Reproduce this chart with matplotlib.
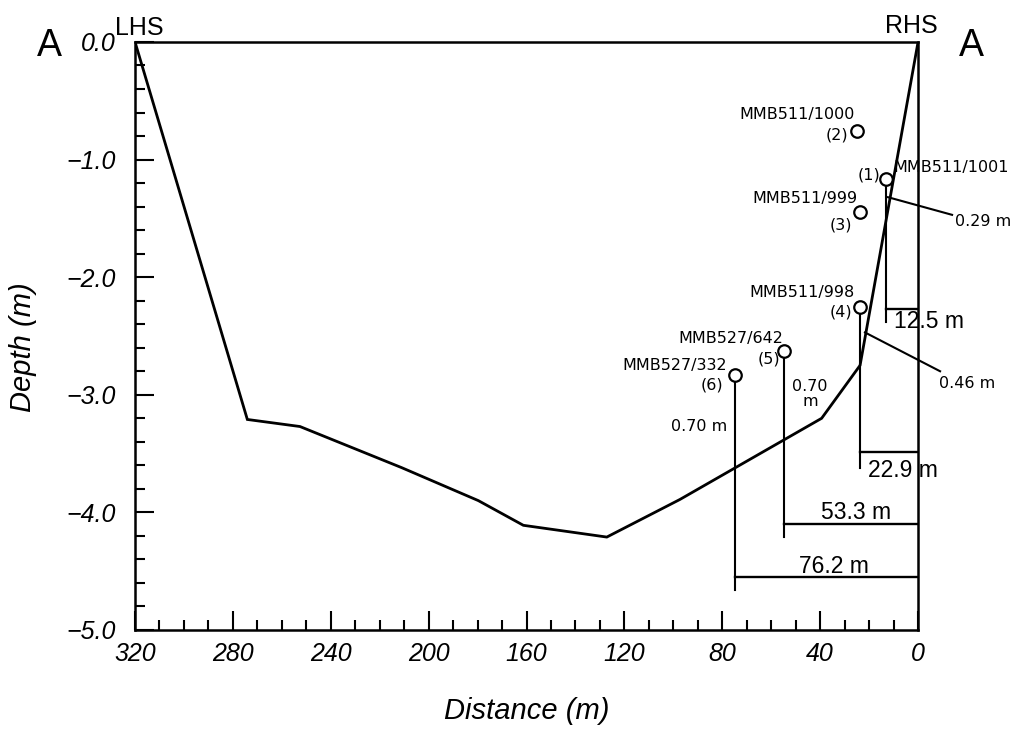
import matplotlib
matplotlib.use("Agg")
import matplotlib.pyplot as plt
from matplotlib.ticker import MultipleLocator, FuncFormatter

plt.rcParams['font.family'] = ['Liberation Sans', 'DejaVu Sans']

# channel bed profile (distance from RHS, depth)
profile_x = [320, 274.1, 252.6, 211.0, 179.7, 161.3, 127.2, 97.3, 39.4, 23.7, 0]
profile_y = [0.0, -3.21, -3.27, -3.62, -3.90, -4.11, -4.21, -3.89, -3.20, -2.75, 0.0]

# sampling stations
st_num = ["(1)", "(2)", "(3)", "(4)", "(5)", "(6)"]
st_name = ["MMB511/1001", "MMB511/1000", "MMB511/999", "MMB511/998", "MMB527/642", "MMB527/332"]
st_x = [12.9, 25.0, 23.7, 23.7, 54.6, 74.8]
st_y = [-1.165, -0.757, -1.45, -2.25, -2.63, -2.83]

# distance markers from RHS: (station index, pole bottom, dimension line depth, label)
dim_station = [0, 3, 4, 5]
dim_pole_end = [-2.38, -3.62, -4.21, -4.66]
dim_line_y = [-2.27, -3.49, -4.10, -4.55]
dim_label = ["12.5 m", "22.9 m", "53.3 m", "76.2 m"]

fig = plt.figure(figsize=(10.16, 7.31), dpi=100)
ax = fig.add_axes([0.1329, 0.1382, 0.7707, 0.8044])

ax.plot(profile_x, profile_y, color='black', lw=2.0, solid_joinstyle='miter')

# poles and dimension lines
for i, yb, yl in zip(dim_station, dim_pole_end, dim_line_y):
    ax.plot([st_x[i], st_x[i]], [st_y[i] - 0.06, yb], color='black', lw=1.5)
    ax.plot([st_x[i], 0], [yl, yl], color='black', lw=1.7)

ax.plot(st_x, st_y, 'o', mfc='white', mec='black', ms=9, mew=1.6, zorder=5)

lab = dict(fontsize=11.5, va='center', family='DejaVu Sans')
ax.text(25.8, -0.62, st_name[1], ha='right', **lab)
ax.text(28.6, -0.79, st_num[1], ha='right', **lab)
ax.text(15.5, -1.13, st_num[0], ha='right', **lab)
ax.text(10.2, -1.07, st_name[0], ha='left', clip_on=False, **lab)
ax.text(24.9, -1.33, st_name[2], ha='right', **lab)
ax.text(27.0, -1.56, st_num[2], ha='right', **lab)
ax.text(25.8, -2.13, st_name[3], ha='right', **lab)
ax.text(27.0, -2.30, st_num[3], ha='right', **lab)
ax.text(55.2, -2.52, st_name[4], ha='right', **lab)
ax.text(56.4, -2.70, st_num[4], ha='right', **lab)
ax.text(78.1, -2.75, st_name[5], ha='right', **lab)
ax.text(79.7, -2.92, st_num[5], ha='right', **lab)

# offsets
ax.plot([12.3, -13.9], [-1.32, -1.47], color='black', lw=1.5, clip_on=False)
ax.text(-15.1, -1.53, "0.29 m", ha='left', clip_on=False, **lab)
ax.plot([21.7, -9.0], [-2.47, -2.80], color='black', lw=1.5, clip_on=False)
ax.text(-8.6, -2.90, "0.46 m", ha='left', clip_on=False, **lab)
ax.text(44.2, -2.99, "0.70\nm", ha='center', linespacing=1.0, **lab)
ax.text(78.1, -3.27, "0.70 m", ha='right', **lab)

# dimension labels
ax.text(9.8, -2.38, dim_label[0], ha='left', va='center', fontsize=16.5, clip_on=False)
ax.text(20.4, -3.64, dim_label[1], ha='left', va='center', fontsize=16.5, clip_on=False)
ax.text(25.3, -4.00, dim_label[2], ha='center', va='center', fontsize=16.5)
ax.text(34.3, -4.46, dim_label[3], ha='center', va='center', fontsize=16.5)

ax.text(328.2, 0.06, "LHS", ha='left', va='baseline', fontsize=18, clip_on=False)
ax.text(13.5, 0.08, "RHS", ha='left', va='baseline', fontsize=18, clip_on=False)
fig.text(0.0487, 0.937, "A", ha='center', va='center', fontsize=27)
fig.text(0.956, 0.937, "A", ha='center', va='center', fontsize=27)

ax.set_xlim(320, 0)
ax.set_ylim(-5.0, 0.0)
ax.xaxis.set_major_locator(MultipleLocator(40))
ax.xaxis.set_minor_locator(MultipleLocator(10))
ax.yaxis.set_major_locator(MultipleLocator(1.0))
ax.yaxis.set_minor_locator(MultipleLocator(0.2))
ax.yaxis.set_major_formatter(FuncFormatter(lambda v, p: f"{v:.1f}".replace('-', '\u2212')))
ax.xaxis.set_major_formatter(FuncFormatter(lambda v, p: f"{v:.0f}"))

ax.tick_params(which='both', direction='in', top=False, right=False, width=1.5)
ax.tick_params(which='major', length=14)
ax.tick_params(which='minor', length=7)
ax.tick_params(axis='y', which='major', pad=14)
ax.tick_params(axis='x', which='major', pad=9)
for t in ax.get_xticklabels() + ax.get_yticklabels():
    t.set_fontsize(18)
    t.set_fontstyle('italic')
for s in ax.spines.values():
    s.set_linewidth(1.8)

ax.set_xlabel("Distance (m)", fontsize=21, fontstyle='italic', labelpad=22)
ax.set_ylabel("Depth (m)", fontsize=21, fontstyle='italic')
ax.yaxis.set_label_coords(-0.125, 0.481)

fig.savefig("out.png", dpi=100)
